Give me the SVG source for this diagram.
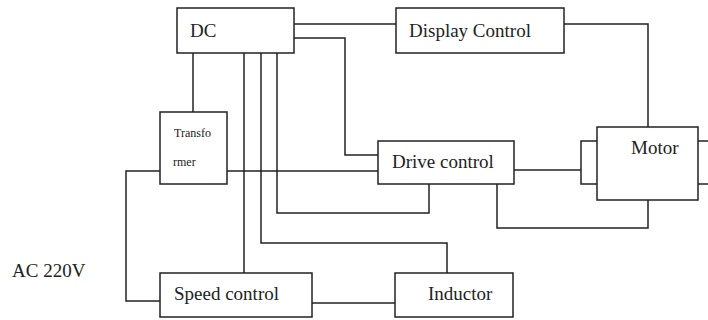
<svg xmlns="http://www.w3.org/2000/svg" width="708" height="320" viewBox="0 0 708 320">
<style>
.box{fill:#fff;stroke:#222;stroke-width:1.5}
.ln{fill:none;stroke:#222;stroke-width:1.5}
text{font-family:"Liberation Serif","Times New Roman",serif;fill:#222;font-size:19px}
.sm{font-size:12px}
</style>
<rect width="708" height="320" fill="#fff"/>
<g id="connectors">
<path class="ln" d="M294,24H396"/>
<path class="ln" d="M294,38H345V155H378"/>
<path class="ln" d="M193,53V112"/>
<path class="ln" d="M244,53V273"/>
<path class="ln" d="M261,53V243H447V273"/>
<path class="ln" d="M277,53V213H429V184"/>
<path class="ln" d="M564,24H648V127"/>
<path class="ln" d="M227,171H378"/>
<path class="ln" d="M160,171H126V301H160"/>
<path class="ln" d="M514,170H581"/>
<path class="ln" d="M597,141H581V184H597"/>
<path class="ln" d="M698,141H708M698,184H708"/>
<path class="ln" d="M648,200V228H497V184"/>
<path class="ln" d="M312,303H395"/>
</g>
<g id="dc"><rect class="box" x="177" y="8" width="117" height="45"/><text x="190" y="37">DC</text></g>
<g id="display"><rect class="box" x="396" y="8" width="168" height="45"/><text x="409" y="37">Display Control</text></g>
<g id="transformer"><rect class="box" x="160" y="112" width="67" height="72"/><text class="sm" x="174" y="137">Transfo</text><text class="sm" x="173" y="166">rmer</text></g>
<g id="drive"><rect class="box" x="378" y="141" width="136" height="43"/><text x="392" y="168">Drive control</text></g>
<g id="motor"><rect class="box" x="597" y="127" width="101" height="73"/><text x="631" y="154">Motor</text></g>
<g id="speed"><rect class="box" x="160" y="273" width="152" height="44"/><text x="174" y="300">Speed control</text></g>
<g id="inductor"><rect class="box" x="395" y="273" width="118" height="44"/><text x="428" y="300">Inductor</text></g>
<g id="ac"><text x="12" y="277">AC 220V</text></g>
</svg>
